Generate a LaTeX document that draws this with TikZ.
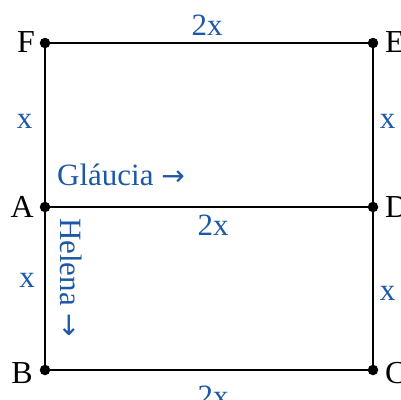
\documentclass[tikz,border=0pt]{standalone}
\usepackage{fontspec}
\setmainfont{Liberation Serif}
\newfontfamily\arrowfont{DejaVu Sans}
\definecolor{lblblue}{RGB}{28,88,166}
\begin{document}
\begin{tikzpicture}[x=1pt,y=-1pt,
  dot/.style={circle,fill=black,inner sep=0pt,minimum size=10.5pt},
  edge/.style={line width=2.3pt},
  pt/.style={inner sep=0pt,font=\fontsize{32}{38}\selectfont},
  lbl/.style={inner sep=0pt,text=lblblue,font=\fontsize{31}{37}\selectfont}]
\useasboundingbox (0,0) rectangle (401,399);
\node[dot] (F) at (45,43) {};
\node[dot] (E) at (373,43) {};
\node[dot] (A) at (45,207) {};
\node[dot] (D) at (373,207) {};
\node[dot] (B) at (45,370) {};
\node[dot] (C) at (373,370) {};
\draw[edge] (F) -- (E);
\draw[edge] (E) -- (D);
\draw[edge] (D) -- (C);
\draw[edge] (C) -- (B);
\draw[edge] (B) -- (A);
\draw[edge] (A) -- (F);
\draw[edge] (A) -- (D);
\node[pt,anchor=base east] (lF) at (35,52) {F};
\node[pt,anchor=base west] (lE) at (385,52) {E};
\node[pt,anchor=base east] (lA) at (34,217) {A};
\node[pt,anchor=base west] (lD) at (385,217) {D};
\node[pt,anchor=base east] (lB) at (33,383) {B};
\node[pt,anchor=base west] (lC) at (385,383) {C};
\node[lbl,anchor=base] (t1) at (207,35) {2x};
\node[lbl,anchor=base] (t2) at (24.5,128) {x};
\node[lbl,anchor=base] (t3) at (387.5,128) {x};
\node[lbl,anchor=base west] (g) at (57,185) {Gláucia {\arrowfont\fontsize{28}{34}\selectfont →}};
\node[lbl,anchor=base] (t4) at (213,235) {2x};
\node[lbl,anchor=base] (t5) at (27,287) {x};
\node[lbl,anchor=base] (t6) at (387.5,300) {x};
\node[lbl,anchor=base west,rotate=-90] (h) at (60,218) {Helena {\arrowfont\fontsize{28}{34}\selectfont →}};
\node[lbl,anchor=base] (t7) at (213,406) {2x};
\end{tikzpicture}
\end{document}
